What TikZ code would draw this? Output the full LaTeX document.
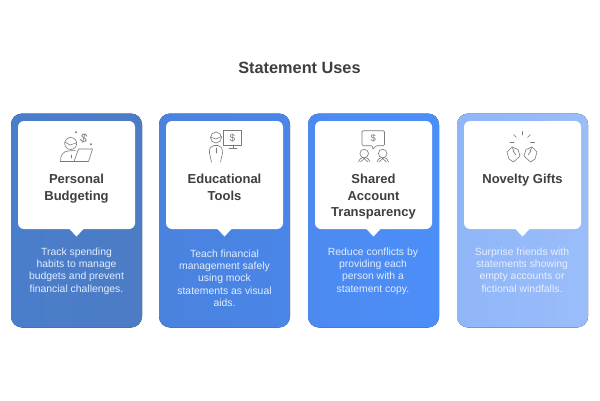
\documentclass[tikz,border=0pt]{standalone}
\usepackage{fontspec}
\setmainfont{Liberation Sans}
\definecolor{ink}{HTML}{3F3F3F}
\definecolor{icon}{HTML}{7A7A7A}
\definecolor{cA}{HTML}{4A7DCB}
\definecolor{cAb}{HTML}{4C7CC4}
\definecolor{cB}{HTML}{4A82DE}
\definecolor{cBb}{HTML}{4A86E8}
\definecolor{cC}{HTML}{4C8AF0}
\definecolor{cCb}{HTML}{4C8EF8}
\definecolor{cD}{HTML}{90B6F8}
\definecolor{cDb}{HTML}{9ABDFA}
\definecolor{txA}{HTML}{E2EEFF}
\definecolor{txD}{HTML}{E6EFFE}
\tikzset{
  x=1pt,y=-1pt,
  titletext/.style={font=\fontsize{16.3}{20}\selectfont\bfseries,text=ink,inner sep=0pt},
  headtext/.style={font=\fontsize{13}{16.6}\selectfont\bfseries,text=ink,align=center,anchor=north,inner sep=0pt},
  desctext/.style={font=\fontsize{10.4}{12.35}\selectfont,align=center,anchor=north,inner sep=0pt,text=txA},
  outer/.style={rounded corners=11pt,draw=none},
  ic/.style={draw=icon,line width=0.6pt,line cap=round,line join=round,fill=none},
  dollar/.style={font=\fontsize{#1}{#1}\selectfont,text=icon,inner sep=0pt},
}
\newcommand{\cardbg}[3]{%
  \fill[outer,left color=#2,right color=#3] (#1,113.5) rectangle ++(131,214);
  \fill[white] (#1+7,229) [rounded corners=6pt] -- (#1+7,121) -- (#1+124,121) -- (#1+124,229) [sharp corners] -- (#1+72.5,229) -- (#1+65.5,236.5) -- (#1+58.5,229) [rounded corners=6pt] -- cycle;
}
\begin{document}
\begin{tikzpicture}
\useasboundingbox (0,0) rectangle (600,400);
\fill[white] (0,0) rectangle (600,400);
\node[titletext] (title) at (299.5,68.3) {Statement Uses};

\cardbg{11}{cA}{cAb}
\cardbg{159}{cB}{cBb}
\cardbg{308}{cC}{cCb}
\cardbg{457}{cD}{cDb}

\node[headtext] (h1) at (76.5,174) {Personal\\Budgeting};
\node[headtext] (h2) at (224.5,174) {Educational\\Tools};
\node[headtext] (h3) at (373.5,174) {Shared\\Account\\Transparency};
\node[headtext] (h4) at (522.5,174) {Novelty Gifts};

\node[desctext] (d1) at (76.5,247.5) {Track spending\\habits to manage\\budgets and prevent\\financial challenges.};
\node[desctext] (d2) at (224.5,249.5) {Teach financial\\management safely\\using mock\\statements as visual\\aids.};
\node[desctext] (d3) at (373,247.5) {Reduce conflicts by\\providing each\\person with a\\statement copy.};
\node[desctext,text=txD] (d4) at (522,247.5) {Surprise friends with\\statements showing\\empty accounts or\\fictional windfalls.};

% icon 1
\draw[ic] (70.7,143.5) circle (6);
\draw[ic] (65,142) -- (70,145) -- (76,143);
\draw[ic] (60.5,161.5) .. controls (60.5,155) and (63,151.5) .. (68,151) -- (75,150.5);
\draw[ic] (60.5,161.5) -- (74,161.5);
\draw[ic] (71,155) -- (71,158);
\draw[ic] (78.5,149) -- (92.5,149) -- (88.5,161.5) -- (74,161.5) -- cycle;
\node[dollar=12,rotate=-15] (i1d) at (84,138) {\$};
\fill[icon] (76,132.3) circle (1.1) (91,144.3) circle (1.1);

% icon 2
\draw[ic] (216,137.5) circle (5.5);
\draw[ic] (210.5,137) -- (216,139) -- (221.5,136.5);
\draw[ic] (211.5,162) -- (209.5,153) .. controls (209,148) and (211,146) .. (214,145.5) -- (218,145.5) .. controls (221,146) and (222.5,148) .. (222.5,153) -- (220.5,162);
\draw[ic] (216,148) -- (216,153);
\draw[ic] (223.5,130.7) -- (241.5,130.7) -- (241.5,145) -- (223.5,145) -- cycle;
\draw[ic] (233,145) -- (233,148.5) (229,148.5) -- (237,148.5);
\node[dollar=10] (i2d) at (232.5,137.8) {\$};

% icon 3
\draw[ic,rounded corners=1.2pt] (362,130.7) -- (384.5,130.7) -- (384.5,145.7) -- (376,145.7) -- (372.7,149.7) -- (372.7,145.7) -- (362,145.7) -- cycle;
\node[dollar=9.5] (i3d) at (373.2,138) {\$};
\draw[ic] (364.2,153.5) circle (4.3);
\draw[ic] (382.7,153.5) circle (4.3);
\draw[ic] (358.5,162) .. controls (359,159) and (361,158) .. (363,157.5) -- (368,162);
\draw[ic] (370,162) .. controls (369.5,159) and (367.5,158) .. (365.5,157.5) -- (360.5,162);
\draw[ic] (377,162) .. controls (377.5,159) and (379.5,158) .. (381.5,157.5) -- (386.5,162);
\draw[ic] (388.5,162) .. controls (388,159) and (386,158) .. (384,157.5) -- (379,162);

% icon 4
\draw[ic] (522,131.5) -- (522,135);
\draw[ic] (513.5,134.5) -- (516.5,137.5);
\draw[ic] (530.5,134.5) -- (527.5,137.5);
\draw[ic] (510,142.5) -- (514,142.5);
\draw[ic] (530.5,142.5) -- (534.5,142.5);
\draw[ic] (507,152) -- (512,147) -- (518,149.5) -- (520,156) -- (513.5,162) -- (509,159) -- cycle;
\draw[ic] (513,151) -- (516,155) (512,147) -- (514,151);
\draw[ic] (537,152) -- (532,147) -- (526,149.5) -- (524,156) -- (530.5,162) -- (535,159) -- cycle;
\draw[ic] (531,151) -- (528,155) (532,147) -- (530,151);
\end{tikzpicture}
\end{document}
